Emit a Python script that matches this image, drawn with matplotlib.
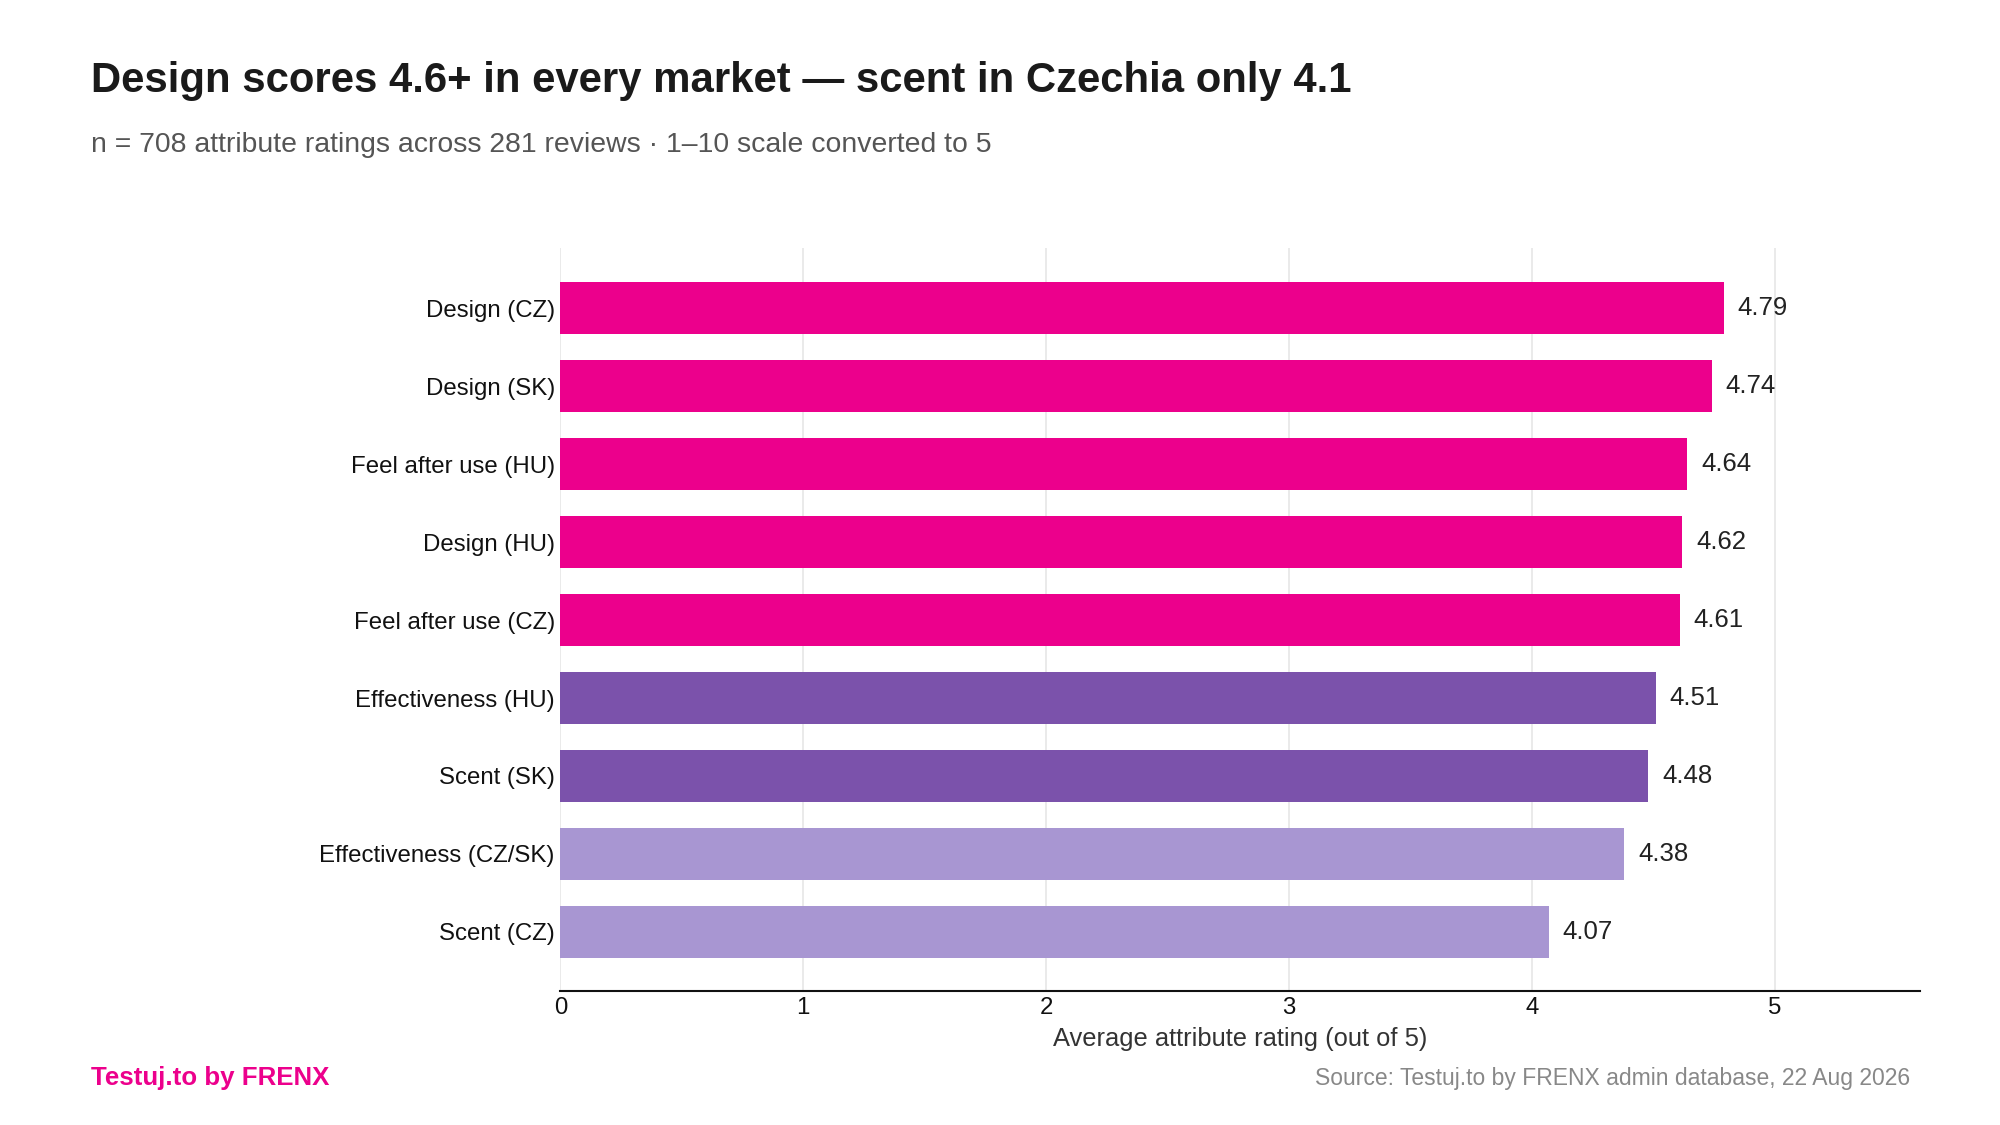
import matplotlib.pyplot as plt

plt.rcParams['font.family'] = ['Liberation Sans', 'DejaVu Sans']

categories = ['Design (CZ)', 'Design (SK)', 'Feel after use (HU)', 'Design (HU)',
              'Feel after use (CZ)', 'Effectiveness (HU)', 'Scent (SK)',
              'Effectiveness (CZ/SK)', 'Scent (CZ)']
ratings = [4.79, 4.74, 4.64, 4.62, 4.61, 4.51, 4.48, 4.38, 4.07]
groups = ['top', 'top', 'top', 'top', 'top', 'mid', 'mid', 'low', 'low']

group_colors = {'top': '#EC008C', 'mid': '#7B52AB', 'low': '#A896D2'}
colors = [group_colors[g] for g in groups]

fig = plt.figure(figsize=(20, 11.25), dpi=100)
ax = fig.add_axes([0.2802, 0.119, 0.680, 0.661])

y = list(range(len(categories)))
ax.barh(y, ratings, height=0.67, color=colors, zorder=3)

for yi, v in zip(y, ratings):
    ax.annotate(f'{v:.2f}', xy=(v, yi), xytext=(10, 0), textcoords='offset points',
                va='center', ha='left', fontsize=18.5, color='#222222')

ax.set_yticks(y)
ax.set_yticklabels(categories, fontsize=17.3, color='#111111')
ax.set_ylim(8.76, -0.78)
ax.set_xlim(0, 5.6)
ax.set_xticks([0, 1, 2, 3, 4, 5])
ax.tick_params(axis='x', labelsize=17.3, length=0, pad=4, labelcolor='#111111')
ax.tick_params(axis='y', length=0, pad=4)
ax.grid(axis='x', color='#e6e6e6', linewidth=1.2, zorder=0)
for s in ['top', 'right', 'left']:
    ax.spines[s].set_visible(False)
ax.spines['bottom'].set_color('#111111')
ax.spines['bottom'].set_linewidth(1.5)
ax.set_xlabel('Average attribute rating (out of 5)', fontsize=18.4, color='#333333', labelpad=6)

fig.text(0.0455, 0.928, 'Design scores 4.6+ in every market \u2014 scent in Czechia only 4.1',
         fontsize=30.2, fontweight='bold', color='#1a1a1a', va='center', ha='left')
fig.text(0.0455, 0.871, 'n = 708 attribute ratings across 281 reviews \u00b7 1\u201310 scale converted to 5',
         fontsize=20.4, color='#555555', va='center', ha='left')
fig.text(0.0455, 0.0414, 'Testuj.to by FRENX', fontsize=18.6, fontweight='bold',
         color='#EC008C', va='center', ha='left')
fig.text(0.955, 0.0414, 'Source: Testuj.to by FRENX admin database, 22 Aug 2026',
         fontsize=16.5, color='#888888', va='center', ha='right')

fig.savefig('out.png', dpi=100)
